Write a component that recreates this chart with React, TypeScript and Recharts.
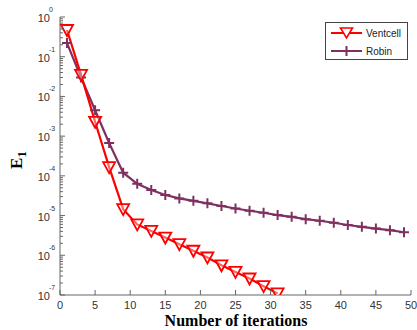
import React from 'react';
import { LineChart, Line, XAxis, YAxis } from 'recharts';

// iteration numbers (odd steps)
const iterations = [1, 3, 5, 7, 9, 11, 13, 15, 17, 19, 21, 23, 25, 27, 29, 31, 33, 35, 37, 39, 41, 43, 45, 47, 49];

// error E1 for each method
const ventcell = [
  0.47, 0.035, 0.0023, 1.66e-4, 1.45e-5, 6.0e-6, 4.1e-6, 2.8e-6, 1.9e-6, 1.3e-6,
  8.8e-7, 5.6e-7, 3.8e-7, 2.6e-7, 1.67e-7, 1.1e-7,
];
const robin = [
  0.22, 0.03, 0.0045, 6.7e-4, 1.2e-4, 6.3e-5, 4.4e-5, 3.3e-5, 2.7e-5, 2.35e-5,
  2.03e-5, 1.74e-5, 1.51e-5, 1.32e-5, 1.18e-5, 1.03e-5, 9.3e-6, 8.1e-6, 7.4e-6, 6.6e-6,
  5.8e-6, 5.2e-6, 4.7e-6, 4.3e-6, 3.8e-6,
];

const xTicks = [0, 5, 10, 15, 20, 25, 30, 35, 40, 45, 50];
const decades = [-7, -6, -5, -4, -3, -2, -1, 0];

const RED = '#ff0000';
const PURPLE = '#7f3060';
const AXIS = '#666';

const data = iterations.map((it, i) => ({
  it,
  ventcell: i < ventcell.length ? ventcell[i] : null,
  robin: robin[i],
}));

// major + minor log ticks
const yTicks: number[] = [];
decades.forEach((d) => {
  yTicks.push(Math.pow(10, d));
  if (d < 0) for (let m = 2; m <= 9; m++) yTicks.push(m * Math.pow(10, d));
});

const YTick = (props: any) => {
  const { x, y, payload } = props;
  const v = payload.value;
  const exp = Math.log10(v);
  const major = Math.abs(exp - Math.round(exp)) < 1e-6;
  return (
    <g>
      <line x1={x} x2={x + (major ? 5 : 3)} y1={y} y2={y} stroke={AXIS} />
      {major && (
        <text fontFamily="Liberation Sans, Arial" fill="#333">
          <tspan x={x - 10} y={y + 5} fontSize={11} textAnchor="end">10</tspan>
          <tspan x={x - 11} y={y - 5} fontSize={7}>{Math.round(exp)}</tspan>
        </text>
      )}
    </g>
  );
};

const XTick = (props: any) => {
  const { x, y, payload } = props;
  return (
    <g>
      <line x1={x} x2={x} y1={y} y2={y - 5} stroke={AXIS} />
      <text x={x} y={y + 14} textAnchor="middle" fontSize={11} fontFamily="Liberation Sans, Arial" fill="#333">
        {payload.value}
      </text>
    </g>
  );
};

const TriDot = (props: any) => {
  const { cx, cy, key } = props;
  if (cx == null || cy == null) return <g key={key} />;
  return (
    <polygon
      key={key}
      points={`${cx - 6},${cy - 5} ${cx + 6},${cy - 5} ${cx},${cy + 6}`}
      fill="#fff"
      fillOpacity={0.4}
      stroke={RED}
      strokeWidth={1.8}
    />
  );
};

const PlusDot = (props: any) => {
  const { cx, cy, key } = props;
  if (cx == null || cy == null) return <g key={key} />;
  return (
    <path key={key} d={`M${cx - 5},${cy}H${cx + 5}M${cx},${cy - 5}V${cy + 5}`} stroke={PURPLE} strokeWidth={2} />
  );
};

export default function App() {
  return (
    <div style={{ position: 'absolute', left: 0, top: 0, width: 417, height: 330, background: '#fff' }}>
      <LineChart width={417} height={330} data={data} margin={{ top: 17, right: 6, bottom: 0, left: 0 }}>
        <XAxis
          dataKey="it"
          type="number"
          domain={[0, 50]}
          ticks={xTicks}
          interval={0}
          height={35}
          tickSize={0}
          tickMargin={0}
          tickLine={false}
          axisLine={{ stroke: AXIS }}
          tick={<XTick />}
        />
        <YAxis
          scale="log"
          domain={[1e-7, 1]}
          allowDataOverflow
          ticks={yTicks}
          interval={0}
          width={60}
          tickSize={0}
          tickMargin={0}
          tickLine={false}
          axisLine={{ stroke: AXIS }}
          tick={<YTick />}
        />
        <Line
          dataKey="robin"
          stroke={PURPLE}
          strokeWidth={2.2}
          dot={<PlusDot />}
          activeDot={false}
          isAnimationActive={false}
        />
        <Line
          dataKey="ventcell"
          stroke={RED}
          strokeWidth={2.2}
          dot={<TriDot />}
          activeDot={false}
          connectNulls={false}
          isAnimationActive={false}
        />
      </LineChart>
      <svg width={417} height={330} style={{ position: 'absolute', left: 0, top: 0, pointerEvents: 'none' }}>
        <text
          x={236}
          y={326}
          textAnchor="middle"
          fontFamily="Liberation Serif, Times New Roman"
          fontWeight="bold"
          fontSize={16}
          fill="#000"
        >
          Number of iterations
        </text>
        <text
          transform="translate(22,160) rotate(-90)"
          textAnchor="middle"
          fontFamily="Liberation Serif, Times New Roman"
          fontWeight="bold"
          fontSize={17}
          fill="#000"
        >
          E<tspan fontSize={13} dy={4}>1</tspan>
        </text>
        <g>
          <rect x={325.5} y={22.5} width={82} height={37} fill="#fff" stroke="#444" />
          <line x1={331} x2={362} y1={33} y2={33} stroke={RED} strokeWidth={2} />
          <polygon points="340.5,28 352.5,28 346.5,38" fill="#fff" stroke={RED} strokeWidth={1.6} />
          <text x={366} y={37} fontSize={10} fontFamily="Liberation Sans, Arial" fill="#222">Ventcell</text>
          <line x1={331} x2={362} y1={51} y2={51} stroke={PURPLE} strokeWidth={2} />
          <path d="M341.5,51H351.5M346.5,46V56" stroke={PURPLE} strokeWidth={2} />
          <text x={366} y={55} fontSize={10} fontFamily="Liberation Sans, Arial" fill="#222">Robin</text>
        </g>
      </svg>
    </div>
  );
}
